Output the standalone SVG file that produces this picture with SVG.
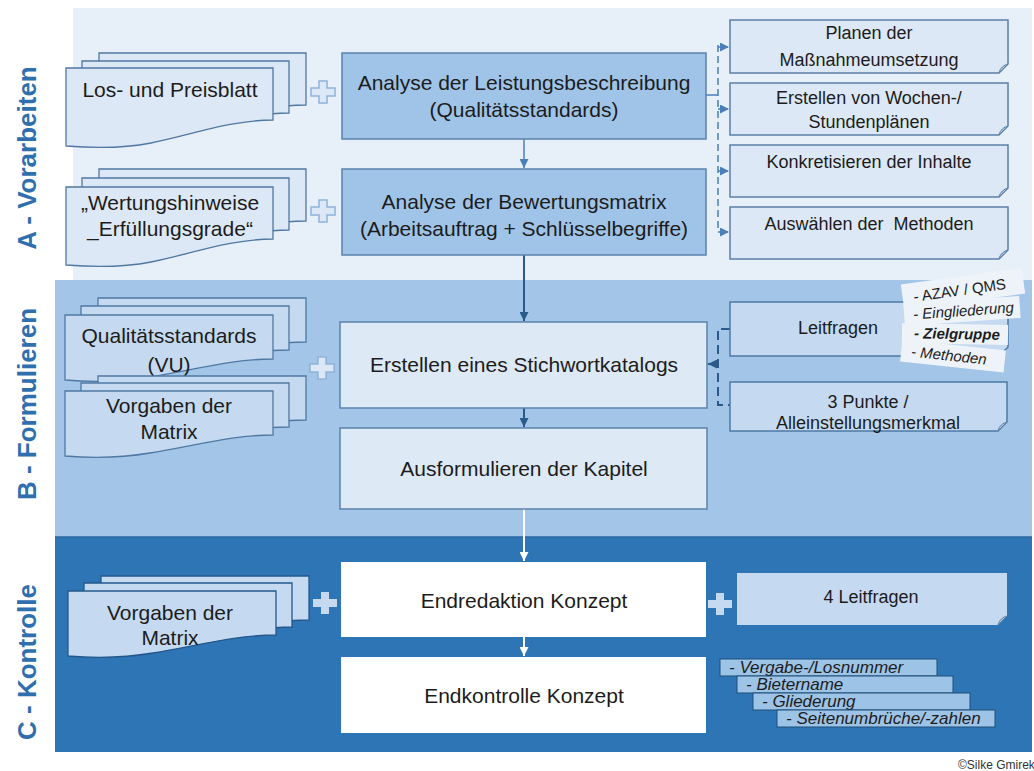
<svg xmlns="http://www.w3.org/2000/svg" xmlns:xlink="http://www.w3.org/1999/xlink" width="1034" height="771" viewBox="0 0 1034 771">
<style>
text{font-family:"Liberation Sans",Arial,sans-serif;fill:#1c1c1c}
.lbl{font-size:26px;font-weight:bold;fill:#2f6fae;text-anchor:middle}
.c21{font-size:21px;text-anchor:middle}
.c18{font-size:18px;text-anchor:middle}
.it{font-style:italic}
.boxA{fill:#9fc4e8;stroke:#5a82ad;stroke-width:1.5}
.boxB{fill:#dde9f5;stroke:#5a82ad;stroke-width:1.5}
.boxC{fill:#ffffff}
.docA{fill:#dce8f5;stroke:#4f78a3;stroke-width:1.3}
.docB{fill:#c5daf0;stroke:#4f78a3;stroke-width:1.3}
.docC{fill:#c5daf0;stroke:#24588c;stroke-width:1.3}
.sideA{fill:#dce8f5;stroke:#5b80a8;stroke-width:1.5}
.sideB{fill:#c5daf0;stroke:#4f79a5;stroke-width:1.5}
.fold{fill:#a9c3de;stroke:#5b80a8;stroke-width:1}
.plusO{fill:#dce8f5;stroke:#8fb3d9;stroke-width:1.5}
.plusS{fill:#c5daf0}
.tagB{fill:#eef3f9}
.tagC{fill:#9dc3e6;stroke:#1f4e79;stroke-width:1}
</style>
<defs>
<path id="docAshape" d="M0,0 H207 V52 C165,52 125,67 85,75 C55,81 25,80 0,78 Z"/>
<path id="docBshape" d="M0,0 H208 V44 C166,44 125,56 85,62 C55,67 25,67 0,65 Z"/>
<path id="plus" d="M-4,-11 h8 v7 h8 v8 h-8 v7 h-8 v-7 h-8 v-8 h8 Z"/>
<marker id="mA" viewBox="0 0 10 10" refX="10" refY="5" markerWidth="9" markerHeight="9" markerUnits="userSpaceOnUse" orient="auto"><path d="M0,0 L10,5 L0,10 Z" fill="#4a7fb8"/></marker>
<marker id="mD" viewBox="0 0 10 10" refX="10" refY="5" markerWidth="9" markerHeight="9" markerUnits="userSpaceOnUse" orient="auto"><path d="M0,0 L10,5 L0,10 Z" fill="#2a5a8a"/></marker>
<marker id="mW" viewBox="0 0 10 10" refX="10" refY="5" markerWidth="9" markerHeight="9" markerUnits="userSpaceOnUse" orient="auto"><path d="M0,0 L10,5 L0,10 Z" fill="#ffffff"/></marker>
</defs>

<!-- bands -->
<g id="bands">
<rect x="73" y="8" width="959" height="272" fill="#e7eff8"/>
<rect x="55" y="280" width="977" height="257" fill="#a3c5e7"/>
<rect x="55" y="537" width="977" height="215" fill="#2e75b6"/>
<line x1="55" y1="537" x2="1032" y2="537" stroke="#2a65a0" stroke-width="1.5"/>
</g>

<g id="labels">
<text class="lbl" transform="translate(36,158) rotate(-90)">A - Vorarbeiten</text>
<text class="lbl" transform="translate(36,404) rotate(-90)">B - Formulieren</text>
<text class="lbl" transform="translate(36,662) rotate(-90)">C - Kontrolle</text>
</g>

<!-- connectors -->
<g id="connectors" fill="none">
<line x1="524" y1="139" x2="524" y2="168" stroke="#4a7fb8" stroke-width="1.5" marker-end="url(#mA)"/>
<line x1="524" y1="255" x2="524" y2="321" stroke="#2a5a8a" stroke-width="2" marker-end="url(#mD)"/>
<line x1="524" y1="408" x2="524" y2="427" stroke="#2a5a8a" stroke-width="2" marker-end="url(#mD)"/>
<line x1="524" y1="509" x2="524" y2="561" stroke="#ffffff" stroke-width="2" marker-end="url(#mW)"/>
<line x1="524" y1="637" x2="524" y2="656" stroke="#ffffff" stroke-width="2" marker-end="url(#mW)"/>
<line x1="706" y1="95" x2="718" y2="95" stroke="#4a7fb8" stroke-width="1.5"/>
<line x1="718" y1="45" x2="718" y2="232" stroke="#4a7fb8" stroke-width="1.5" stroke-dasharray="7,4"/>
<line x1="718" y1="47" x2="729" y2="47" stroke="#4a7fb8" stroke-width="1.5" stroke-dasharray="4,2" marker-end="url(#mA)"/>
<line x1="718" y1="109" x2="729" y2="109" stroke="#4a7fb8" stroke-width="1.5" stroke-dasharray="4,2" marker-end="url(#mA)"/>
<line x1="718" y1="171" x2="729" y2="171" stroke="#4a7fb8" stroke-width="1.5" stroke-dasharray="4,2" marker-end="url(#mA)"/>
<line x1="718" y1="232" x2="729" y2="232" stroke="#4a7fb8" stroke-width="1.5" stroke-dasharray="4,2" marker-end="url(#mA)"/>
<path d="M730,329 H718 V405 H730" stroke="#2a5a8a" stroke-width="2" stroke-dasharray="9,5"/>
<line x1="718" y1="364" x2="708" y2="364" stroke="#2a5a8a" stroke-width="2" marker-end="url(#mD)"/>
</g>

<!-- A left docs -->
<g id="doc-los">
<use href="#docAshape" class="docA" transform="translate(99,53)"/>
<use href="#docAshape" class="docA" transform="translate(82,61)"/>
<use href="#docAshape" class="docA" transform="translate(66,68)"/>
<text class="c21" x="170" y="97">Los- und Preisblatt</text>
</g>
<g id="doc-wertung">
<use href="#docAshape" class="docA" transform="translate(99,169)"/>
<use href="#docAshape" class="docA" transform="translate(82,178)"/>
<use href="#docAshape" class="docA" transform="translate(66,187)"/>
<text class="c21" x="170" y="210">„Wertungshinweise</text>
<text class="c21" x="170" y="236">_Erfüllungsgrade“</text>
</g>
<g id="plus-a1"><use href="#plus" class="plusO" transform="translate(323,92)"/></g>
<g id="plus-a2"><use href="#plus" class="plusO" transform="translate(323,211)"/></g>

<!-- A center -->
<g id="analyse-leistung">
<rect class="boxA" x="342" y="53" width="364" height="86"/>
<text class="c21" x="524" y="90">Analyse der Leistungsbeschreibung</text>
<text class="c21" x="524" y="117">(Qualitätsstandards)</text>
</g>
<g id="analyse-bewertung">
<rect class="boxA" x="342" y="169" width="364" height="86"/>
<text class="c21" x="524" y="209">Analyse der Bewertungsmatrix</text>
<text class="c21" x="524" y="236">(Arbeitsauftrag + Schlüsselbegriffe)</text>
</g>

<!-- A right -->
<g id="planen">
<path class="sideA" d="M730,20 H1008 V64 L999,73 H730 Z"/>
<path class="fold" d="M1008,64 C1004,65 1000,68 999,73 Z"/>
<text class="c18" x="869" y="39">Planen der</text>
<text class="c18" x="869" y="66">Maßnahmeumsetzung</text>
</g>
<g id="erstellen-plaene">
<path class="sideA" d="M730,83 H1008 V126 L999,135 H730 Z"/>
<path class="fold" d="M1008,126 C1004,127 1000,130 999,135 Z"/>
<text class="c18" x="869" y="104">Erstellen von Wochen-/</text>
<text class="c18" x="869" y="128">Stundenplänen</text>
</g>
<g id="konkretisieren">
<path class="sideA" d="M730,145 H1008 V188 L999,197 H730 Z"/>
<path class="fold" d="M1008,188 C1004,189 1000,192 999,197 Z"/>
<text class="c18" x="869" y="168">Konkretisieren der Inhalte</text>
</g>
<g id="auswaehlen">
<path class="sideA" d="M730,207 H1008 V250 L999,259 H730 Z"/>
<path class="fold" d="M1008,250 C1004,251 1000,254 999,259 Z"/>
<text class="c18" x="869" y="230" style="white-space:pre">Auswählen der  Methoden</text>
</g>

<!-- B left docs -->
<g id="doc-qualitaet">
<use href="#docBshape" class="docB" transform="translate(98,298)"/>
<use href="#docBshape" class="docB" transform="translate(81,306)"/>
<use href="#docBshape" class="docB" transform="translate(65,315)"/>
<text class="c21" x="169" y="343">Qualitätsstandards</text>
<text class="c21" x="169" y="372">(VU)</text>
</g>
<g id="doc-vorgaben-b">
<use href="#docBshape" class="docB" transform="translate(98,376)"/>
<use href="#docBshape" class="docB" transform="translate(81,383)"/>
<use href="#docBshape" class="docB" transform="translate(65,391)"/>
<text class="c21" x="169" y="413">Vorgaben der</text>
<text class="c21" x="169" y="439">Matrix</text>
</g>
<g id="plus-b"><use href="#plus" class="plusO" transform="translate(322,368)"/></g>

<!-- B center -->
<g id="stichwortkatalog">
<rect class="boxB" x="340" y="322" width="367" height="86"/>
<text class="c21" x="524" y="372">Erstellen eines Stichwortkatalogs</text>
</g>
<g id="ausformulieren">
<rect class="boxB" x="340" y="428" width="367" height="81"/>
<text class="c21" x="524" y="476">Ausformulieren der Kapitel</text>
</g>

<!-- B right -->
<g id="leitfragen">
<path class="sideB" d="M730,302 H1008 V347 L999,356 H730 Z"/>
<text class="c18" x="838" y="334">Leitfragen</text>
</g>
<g id="drei-punkte">
<path class="sideB" d="M730,382 H1007 V422 L998,431 H730 Z"/>
<path class="fold" d="M1007,422 C1003,423 999,426 998,431 Z"/>
<text class="c18" x="868" y="408">3 Punkte /</text>
<text class="c18" x="868" y="429">Alleinstellungsmerkmal</text>
</g>
<g id="tags-leitfragen">
<g transform="translate(963,289) rotate(-8)"><rect class="tagB" x="-61" y="-13" width="122" height="26"/><text x="-50" y="6" style="font-size:15px">- AZAV / QMS</text></g>
<g transform="translate(962,311) rotate(-4)"><rect class="tagB" x="-58" y="-11" width="116" height="22"/><text class="it" x="-49" y="5" style="font-size:15px">- Eingliederung</text></g>
<g transform="translate(955,334) rotate(1)"><rect class="tagB" x="-53" y="-10" width="106" height="20"/><text class="it" x="-41" y="5" style="font-size:15px;font-weight:bold">- Zielgruppe</text></g>
<g transform="translate(953,356) rotate(6)"><rect class="tagB" x="-52" y="-11" width="104" height="22"/><text class="it" x="-42" y="5" style="font-size:15px">- Methoden</text></g>
</g>

<!-- C left -->
<g id="doc-vorgaben-c">
<use href="#docBshape" class="docC" transform="translate(101,576)"/>
<use href="#docBshape" class="docC" transform="translate(84,583)"/>
<use href="#docBshape" class="docC" transform="translate(68,591)"/>
<text class="c21" x="170" y="620">Vorgaben der</text>
<text class="c21" x="170" y="645">Matrix</text>
</g>
<g id="plus-c1"><use href="#plus" class="plusS" transform="translate(325,603)"/></g>
<g id="plus-c2"><use href="#plus" class="plusS" transform="translate(720,604)"/></g>

<!-- C center -->
<g id="endredaktion">
<rect class="boxC" x="341" y="562" width="365" height="75"/>
<text class="c21" x="524" y="608">Endredaktion Konzept</text>
</g>
<g id="endkontrolle">
<rect class="boxC" x="341" y="657" width="365" height="76"/>
<text class="c21" x="524" y="703">Endkontrolle Konzept</text>
</g>

<!-- C right -->
<g id="vier-leitfragen">
<path d="M737,573 H1007 V616 L998,625 H737 Z" fill="#c5daf0"/>
<path class="fold" d="M1007,616 C1003,617 999,620 998,625 Z"/>
<text class="c18" x="871" y="603">4 Leitfragen</text>
</g>
<g id="tags-kontrolle">
<rect class="tagC" x="720" y="659" width="217" height="17"/>
<text class="it" x="729" y="673" style="font-size:17px">- Vergabe-/Losnummer</text>
<rect class="tagC" x="737" y="676" width="216" height="17"/>
<text class="it" x="746" y="690" style="font-size:17px">- Bietername</text>
<rect class="tagC" x="753" y="693" width="217" height="17"/>
<text class="it" x="762" y="707" style="font-size:17px">- Gliederung</text>
<rect class="tagC" x="777" y="710" width="218" height="17"/>
<text class="it" x="786" y="724" style="font-size:17px">- Seitenumbrüche/-zahlen</text>
</g>

<text x="958" y="769" style="font-size:12px;fill:#333">©Silke Gmirek</text>
</svg>
